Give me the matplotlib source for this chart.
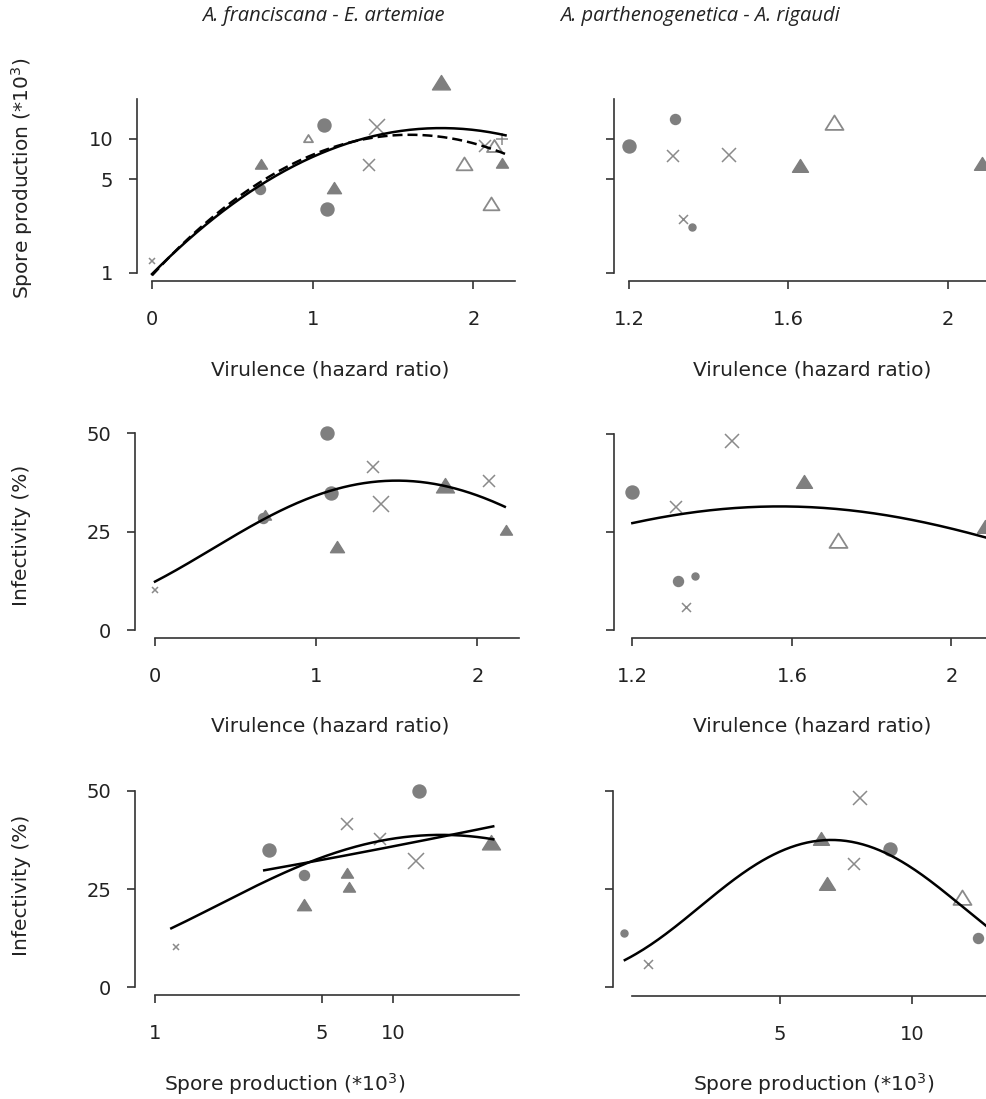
import numpy as np
import matplotlib
matplotlib.use("Agg")
import matplotlib.pyplot as plt
from matplotlib.path import Path

# ---- data: A. franciscana - E. artemiae (left column) ----
left_vir = [0.00, 0.68, 0.67, 0.97, 1.07, 1.09, 1.13, 1.40, 1.35, 1.80, 1.94, 2.07, 2.13, 2.18, 2.11, 2.18]
left_spores = [1.23, 6.4, 4.2, 10.0, 12.8, 3.0, 4.2, 12.4, 6.4, 25.7, 6.4, 8.8, 8.7, 10.0, 3.2, 6.5]
left_inf = [10.2, 28.9, 28.6, np.nan, 50.0, 34.9, 20.8, 32.1, 41.5, 36.5, np.nan, 37.8, np.nan, np.nan, np.nan, 25.3]
left_kind = ["x", "tri", "o", "open", "o", "o", "tri", "x", "x", "tri", "open", "x", "open", "+", "open", "tri"]
left_size = [6, 12, 10, 9, 13, 13, 14, 16, 12, 18, 16, 12, 15, 12, 16, 12]

# ---- data: A. parthenogenetica - A. rigaudi (right column) ----
right_vir = [1.20, 1.315, 1.31, 1.45, 1.335, 1.357, 1.63, 1.715, 2.085]
right_spores = [8.9, 14.2, 7.4, 7.6, 2.5, 2.2, 6.2, 13.0, 6.4]
right_inf = [35.3, 12.5, 31.3, 48.3, 5.9, 13.8, 37.5, 22.5, 26.0]
right_kind = ["o", "o", "x", "x", "x", "o", "tri", "open", "tri"]
right_size = [13, 10, 12, 14, 9, 7, 16, 18, 16]

# ---- fitted curves (quadratic coefficients a, b, c and fitted range) ----
# spore production: log10(y) = a + b*x + c*x^2
sp_fit_solid = [-0.01, 1.213, -0.337]
sp_fit_dashed = [-0.02, 1.31, -0.408]
sp_fit_range = [0.0, 2.2]
# infectivity: logit(p) = a + b*x + c*x^2
inf_fit_left = [-1.963, 1.965, -0.655]
inf_fit_left_range = [0.0, 2.17]
inf_fit_right = [-4.473, 4.71, -1.5]
inf_fit_right_range = [1.2, 2.1]
# infectivity vs spores: logit(p) = a + b*log10(s) + c*log10(s)^2
sp_inf_fit1 = [-1.891, 2.393, -0.997]
sp_inf_fit1_range = [1.17, 26.2]
sp_inf_fit2 = [-1.092, 0.513, 0.0]
sp_inf_fit2_range = [2.87, 26.2]
sp_inf_fit_right = [-6.757, 15.31, -9.38]
sp_inf_fit_right_range = [2.21, 15.5]

W, H = 987, 1099
GREY = "#7f7f7f"
LGREY = "#8a8a8a"
INK = "#222222"
TICK_FS = 14
LABEL_FS = 14.5

plt.rcParams["font.family"] = ["DejaVu Sans"]
plt.rcParams["text.color"] = INK
plt.rcParams["mathtext.fontset"] = "dejavusans"

fig = plt.figure(figsize=(W / 100, H / 100), dpi=100)

TRI = Path([(-1, -0.6), (1, -0.6), (0, 1.0), (-1, -0.6)],
           [Path.MOVETO, Path.LINETO, Path.LINETO, Path.CLOSEPOLY])


def add_axes(left, top, right, bottom):
    return fig.add_axes([left / W, 1 - bottom / H, (right - left) / W, (bottom - top) / H])


def style(ax, xb, yb, xticks, xlabels, yticks, ylabels, xpad=15, ypad=11):
    for s in ["top", "right"]:
        ax.spines[s].set_visible(False)
    for s in ["left", "bottom"]:
        ax.spines[s].set_color("#333333")
        ax.spines[s].set_linewidth(1.2)
    ax.spines["bottom"].set_bounds(*xb)
    ax.spines["left"].set_bounds(*yb)
    ax.set_xticks(xticks)
    ax.set_xticklabels(xlabels)
    ax.set_yticks(yticks)
    ax.set_yticklabels(ylabels)
    ax.minorticks_off()
    ax.tick_params(axis="x", length=6, width=1.2, color="#333333", pad=xpad, labelsize=TICK_FS, labelcolor=INK)
    ax.tick_params(axis="y", length=6, width=1.2, color="#333333", pad=ypad, labelsize=TICK_FS, labelcolor=INK)
    ax.patch.set_alpha(0)


def scatter(ax, xs, ys, kinds, sizes):
    for x, y, k, s in zip(xs, ys, kinds, sizes):
        if np.isnan(x) or np.isnan(y):
            continue
        ms = s * 0.72
        if k == "o":
            ax.plot(x, y, "o", ms=ms, color=GREY, mec=GREY, clip_on=False, zorder=3)
        elif k == "tri":
            ax.plot(x, y, marker=TRI, ms=ms, color=GREY, mec=GREY, ls="none", clip_on=False, zorder=3)
        elif k == "open":
            ax.plot(x, y, marker=TRI, ms=ms, mfc="white", mec=LGREY, mew=1.3, ls="none", clip_on=False, zorder=3)
        elif k == "x":
            ax.plot(x, y, "x", ms=ms, mec=LGREY, mew=1.1, clip_on=False, zorder=3)
        elif k == "+":
            ax.plot(x, y, "+", ms=ms, mec=LGREY, mew=1.1, clip_on=False, zorder=3)


def quad(c, t):
    return c[0] + c[1] * t + c[2] * t ** 2


def inv_logit(z):
    return 100.0 / (1.0 + np.exp(-z))


# ---------- top-left ----------
ax = add_axes(137, 75, 519, 281)
ax.set_yscale("log")
ax.set_xlim(-0.0933, 2.2838)
ax.set_ylim(0.867, 30.1)
style(ax, (0, 2.259), (1, 20), [0, 1, 2], ["0", "1", "2"], [1, 5, 10], ["1", "5", "10"])
scatter(ax, left_vir, left_spores, left_kind, left_size)
xx = np.linspace(*sp_fit_range, 200)
ax.plot(xx, 10 ** quad(sp_fit_solid, xx), color="black", lw=1.8, zorder=4)
ax.plot(xx, 10 ** quad(sp_fit_dashed, xx), color="black", lw=1.8, ls=(0, (4, 2)), zorder=4)

# ---------- top-right ----------
ax = add_axes(614, 75, 987, 281)
ax.set_yscale("log")
ax.set_xlim(1.1623, 2.0988)
ax.set_ylim(0.867, 30.1)
style(ax, (1.2, 2.0988), (1, 20), [1.2, 1.6, 2.0], ["1.2", "1.6", "2"], [1, 5, 10], ["", "", ""])
scatter(ax, right_vir, right_spores, right_kind, right_size)

# ---------- middle-left ----------
ax = add_axes(135, 425, 519.3, 638.3)
ax.set_xlim(-0.124, 2.26)
ax.set_ylim(-2.11, 52.16)
style(ax, (0, 2.26), (0, 50), [0, 1, 2], ["0", "1", "2"], [0, 25, 50], ["0", "25", "50"])
scatter(ax, left_vir, left_inf, left_kind, left_size)
xx = np.linspace(*inf_fit_left_range, 200)
ax.plot(xx, inv_logit(quad(inf_fit_left, xx)), color="black", lw=1.8, zorder=4)

# ---------- middle-right ----------
ax = add_axes(614, 425, 987, 638.3)
ax.set_xlim(1.154, 2.089)
ax.set_ylim(-2.12, 52.3)
style(ax, (1.2, 2.089), (0, 50), [1.2, 1.6, 2.0], ["1.2", "1.6", "2"], [0, 25, 50], ["", "", ""])
scatter(ax, right_vir, right_inf, right_kind, right_size)
xx = np.linspace(*inf_fit_right_range, 200)
ax.plot(xx, inv_logit(quad(inf_fit_right, xx)), color="black", lw=1.8, zorder=4)

# ---------- bottom-left ----------
ax = add_axes(135, 778, 519.3, 995)
ax.set_xscale("log")
ax.set_xlim(0.824, 33.7)
ax.set_ylim(-1.96, 53.3)
style(ax, (1, 33.7), (0, 50), [1, 5, 10], ["1", "5", "10"], [0, 25, 50], ["0", "25", "50"])
scatter(ax, left_spores, left_inf, left_kind, left_size)
ss = np.geomspace(*sp_inf_fit1_range, 200)
ax.plot(ss, inv_logit(quad(sp_inf_fit1, np.log10(ss))), color="black", lw=1.8, zorder=4)
ss = np.geomspace(*sp_inf_fit2_range, 200)
ax.plot(ss, inv_logit(quad(sp_inf_fit2, np.log10(ss))), color="black", lw=1.8, zorder=4)

# ---------- bottom-right ----------
ax = add_axes(613.3, 778, 987, 995.7)
ax.set_xscale("log")
ax.set_xlim(2.08, 14.86)
ax.set_ylim(-2.14, 53.3)
style(ax, (2.29, 14.86), (0, 50), [5, 10], ["5", "10"], [0, 25, 50], ["", "", ""])
scatter(ax, right_spores, right_inf, right_kind, right_size)
ss = np.geomspace(*sp_inf_fit_right_range, 200)
ax.plot(ss, inv_logit(quad(sp_inf_fit_right, np.log10(ss))), color="black", lw=1.8, zorder=4)


def ftext(x, y, s, fs=LABEL_FS, **kw):
    fig.text(x / W, 1 - y / H, s, ha="center", va="center", fontsize=fs, color=INK, **kw)


ftext(323, 16, "A. franciscana - E. artemiae", fs=14.5, style="italic", family=["Open Sans", "DejaVu Sans"])
ftext(700, 16, "A. parthenogenetica - A. rigaudi", fs=14.5, style="italic", family=["Open Sans", "DejaVu Sans"])

for yy in (370, 726):
    ftext(330, yy, "Virulence (hazard ratio)")
    ftext(812, yy, "Virulence (hazard ratio)")
ftext(285, 1084, "Spore production (*10$^{3}$)")
ftext(814, 1084, "Spore production (*10$^{3}$)")

ftext(22, 178, "Spore production (*10$^{3}$)", rotation=90)
ftext(22, 535, "Infectivity (%)", rotation=90)
ftext(22, 885, "Infectivity (%)", rotation=90)

fig.savefig("out.png", dpi=100)
